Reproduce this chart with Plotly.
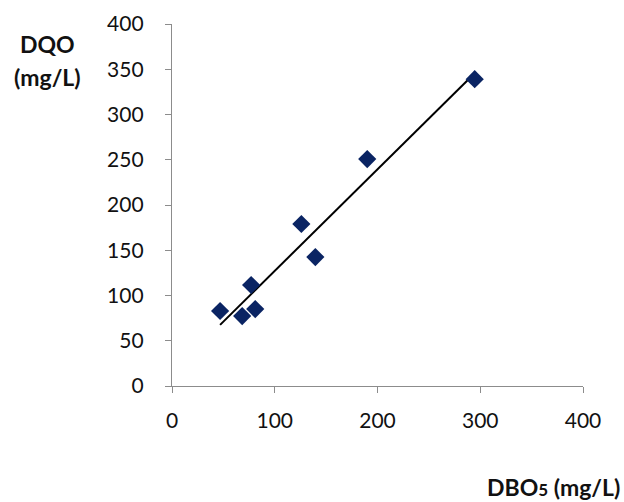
import numpy as np
import plotly.graph_objects as go

# Data
dbo5 = [46.8, 68.3, 77.0, 81.0, 125.9, 139.5, 190.0, 294.6]
dqo = [82.9, 77.3, 111.6, 85.0, 179.0, 142.5, 250.8, 339.0]
x_ticks = [0, 100, 200, 300, 400]
y_ticks = [0, 50, 100, 150, 200, 250, 300, 350, 400]

# Linear trendline (least squares) over data range
slope, intercept = np.polyfit(dbo5, dqo, 1)
tx = [min(dbo5), max(dbo5)]
ty = [slope * v + intercept for v in tx]

fig = go.Figure()
fig.add_trace(go.Scatter(x=tx, y=ty, mode="lines",
                         line=dict(color="black", width=2), showlegend=False))
fig.add_trace(go.Scatter(x=dbo5, y=dqo, mode="markers",
                         marker=dict(symbol="diamond", size=14, color="#0a2463",
                                     line=dict(width=0)),
                         showlegend=False))

font_family = "Lato, Open Sans, sans-serif"
axis_common = dict(showgrid=False, zeroline=False, showline=True, automargin=False,
                   linecolor="#8c8c8c", linewidth=1.3, ticks="outside",
                   ticklen=6, tickcolor="#8c8c8c", tickwidth=1.3,
                   tickfont=dict(family=font_family, size=21, color="#111"))
title_font = dict(family=font_family, size=23, color="#111")
fig.update_layout(
    width=624, height=502,
    margin=dict(l=172, r=41, t=24, b=116),
    plot_bgcolor="white", paper_bgcolor="white",
    xaxis=dict(range=[0, 400], tickvals=x_ticks, ticklabelstandoff=10, **axis_common),
    yaxis=dict(range=[0, 400], tickvals=y_ticks, ticklabelstandoff=17, **axis_common),
    annotations=[
        dict(text="<b>DQO</b>", xref="paper", yref="paper",
             x=-0.302, y=0.945, xanchor="center", yanchor="middle", showarrow=False,
             font=title_font),
        dict(text="<b>(mg/L)</b>", xref="paper", yref="paper",
             x=-0.302, y=0.854, xanchor="center", yanchor="middle", showarrow=False,
             font=title_font),
        dict(text="<b>DBO<span style='font-size:17px'>5</span> (mg/L)</b>",
             xref="paper", yref="paper", x=1.095, y=-0.278, xanchor="right",
             yanchor="middle", showarrow=False, font=title_font),
    ],
)
fig.write_html("out.html", config={"displayModeBar": False},
               post_script="document.body.style.margin='0';document.body.style.overflow='hidden';")
